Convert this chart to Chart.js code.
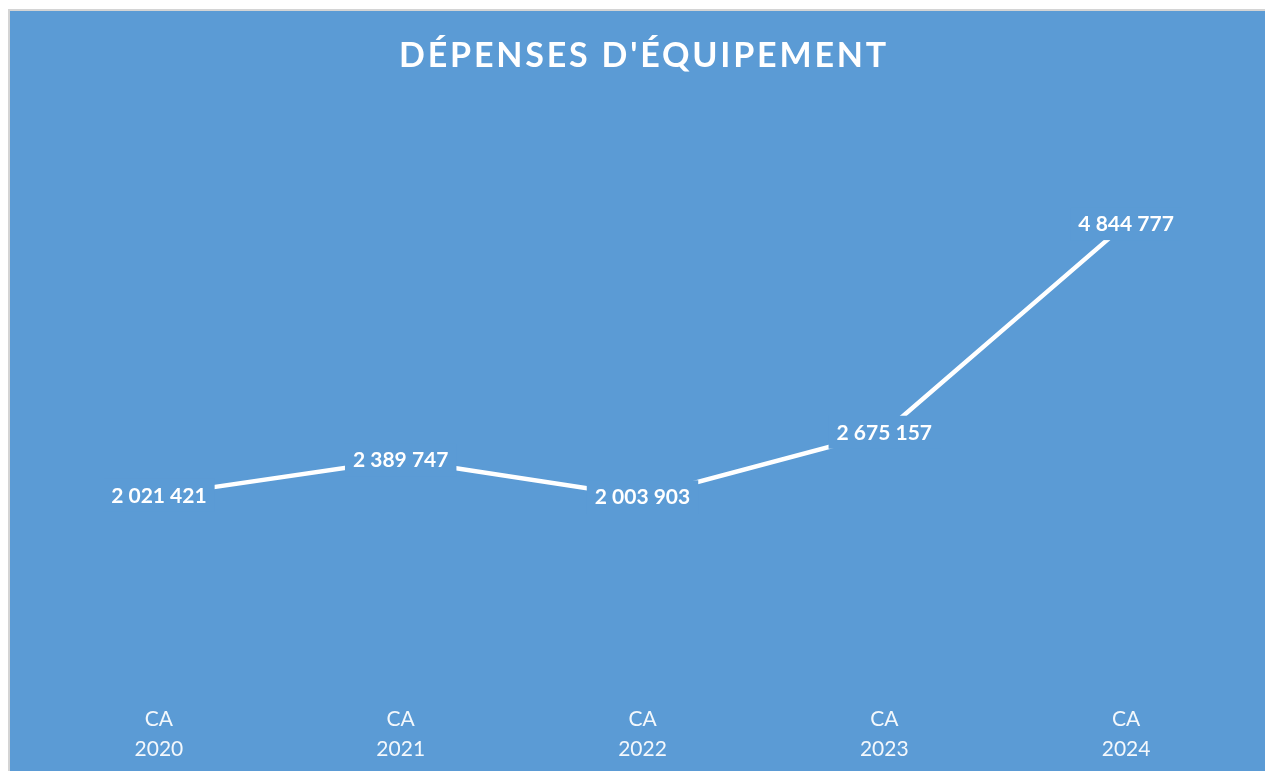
<!DOCTYPE html>
<html>
<head>
<meta charset="utf-8">
<script src="https://cdn.jsdelivr.net/npm/chart.js@4.4.1/dist/chart.umd.min.js"></script>
<style>
  html, body { margin: 0; padding: 0; background: #ffffff; overflow: hidden; }
  #frame {
    position: absolute; left: 8px; top: 9px;
    width: 1255px; height: 760px;
    border-top: 2px solid #d4d4d4; border-left: 2px solid #d4d4d4;
    background: #5b9bd5;
  }
  #wrap { position: absolute; left: 0; top: 0; width: 1255px; height: 760px; }
</style>
</head>
<body>
<div id="frame"><div id="wrap"><canvas id="c"></canvas></div></div>
<script>
const TITLE = "DÉPENSES D'ÉQUIPEMENT";
const categories = [["CA", "2020"], ["CA", "2021"], ["CA", "2022"], ["CA", "2023"], ["CA", "2024"]];
const values = [2021421, 2389747, 2003903, 2675157, 4844777];
const yMin = 0;
const yMax = 6000000;

const BG = '#5b9bd5';
const FONT = 'Lato, "Open Sans", sans-serif';

function fmt(v) {
  return String(v).replace(/\B(?=(\d{3})+(?!\d))/g, ' ');
}

const titlePlugin = {
  id: 'customTitle',
  afterDraw(chart) {
    const ctx = chart.ctx;
    ctx.save();
    ctx.font = 'bold 34px ' + FONT;
    ctx.letterSpacing = '2.8px';
    ctx.fillStyle = '#ffffff';
    ctx.textAlign = 'center';
    ctx.textBaseline = 'alphabetic';
    const cx = (chart.chartArea.left + chart.chartArea.right) / 2;
    ctx.fillText(TITLE, cx + 1.5, 56);
    ctx.restore();
  }
};

const labelPlugin = {
  id: 'valueLabels',
  afterDatasetsDraw(chart) {
    const ctx = chart.ctx;
    const meta = chart.getDatasetMeta(0);
    ctx.save();
    ctx.font = 'bold 21px ' + FONT;
    ctx.textAlign = 'center';
    ctx.textBaseline = 'alphabetic';
    meta.data.forEach((pt, i) => {
      const txt = fmt(values[i]);
      const w = ctx.measureText(txt).width;
      const h = 15;
      ctx.fillStyle = BG;
      ctx.fillRect(pt.x - w / 2 - 8, pt.y - h / 2 - 9, w + 16, h + 18);
      ctx.fillStyle = '#ffffff';
      ctx.fillText(txt, pt.x, pt.y + h / 2);
    });
    ctx.restore();
  }
};

new Chart(document.getElementById('c'), {
  type: 'line',
  data: {
    labels: categories,
    datasets: [{
      data: values,
      borderColor: '#ffffff',
      borderWidth: 4.5,
      pointRadius: 0,
      tension: 0,
      fill: false
    }]
  },
  options: {
    responsive: true,
    maintainAspectRatio: false,
    animation: false,
    layout: { padding: { top: 101.5, left: 28, right: 18, bottom: 0 } },
    plugins: { legend: { display: false }, tooltip: { enabled: false }, title: { display: false } },
    scales: {
      x: {
        offset: true,
        grid: { display: false, drawTicks: false },
        border: { display: false },
        afterFit(scale) { scale.height = 81.5; },
        ticks: {
          color: 'rgba(255,255,255,0.93)',
          font: { family: FONT, size: 21, lineHeight: '30px' },
          padding: 15,
          maxRotation: 0
        }
      },
      y: {
        display: false,
        min: yMin,
        max: yMax
      }
    }
  },
  plugins: [titlePlugin, labelPlugin]
});
</script>
</body>
</html>
